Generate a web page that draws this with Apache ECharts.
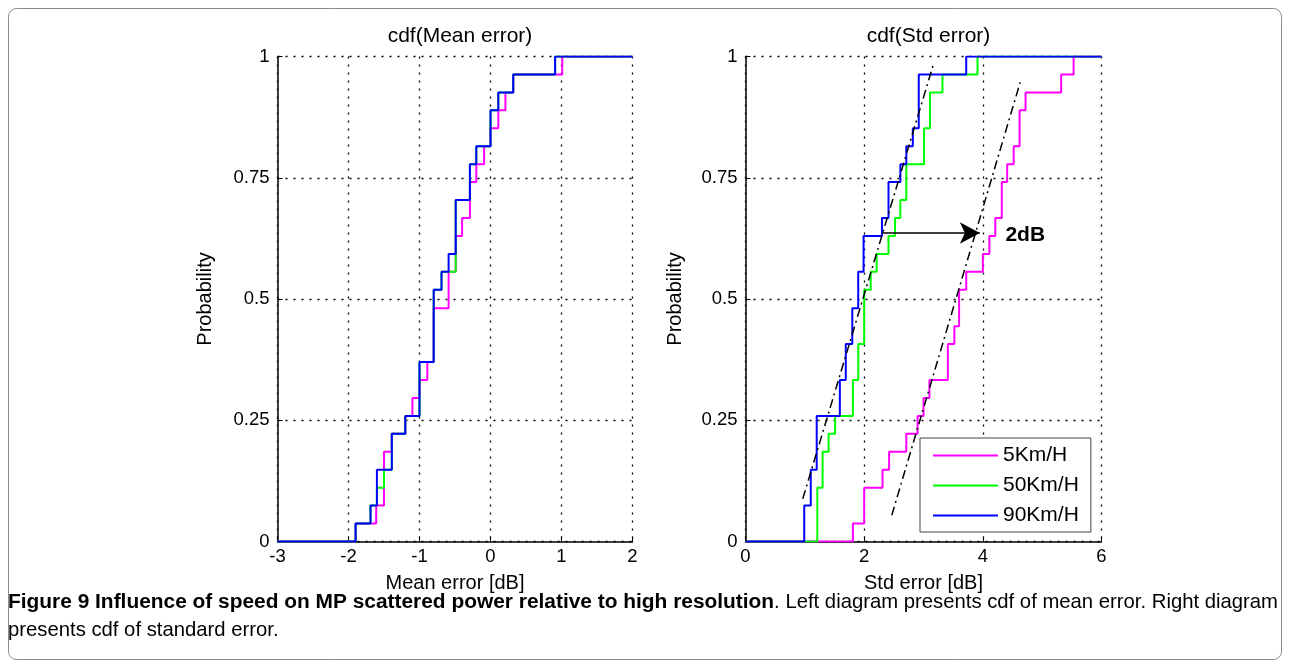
<!DOCTYPE html>
<html>
<head>
<meta charset="utf-8">
<script src="https://cdn.jsdelivr.net/npm/echarts@6/dist/echarts.min.js"></script>
<style>
html,body{margin:0;padding:0;background:#fff;}
#chart{width:1290px;height:668px;}
</style>
</head>
<body>
<div id="chart"></div>
<script>
// ---------- DATA ----------
// Left panel: cdf of mean error (x in dB, cumulative probability)
const meanX_5  = [-3, -1.90, -1.61, -1.50, -1.39, -1.20, -1.10, -1.00, -0.89, -0.80, -0.59, -0.49, -0.40, -0.29, -0.20, -0.09, 0.00, 0.11, 0.21, 0.32, 1.01, 2];
const meanP_5  = [0, 0.037, 0.074, 0.185, 0.222, 0.259, 0.296, 0.333, 0.370, 0.481, 0.556, 0.630, 0.667, 0.741, 0.778, 0.815, 0.852, 0.889, 0.926, 0.963, 1, 1];
const meanX_50 = [-3, -1.90, -1.69, -1.60, -1.50, -1.39, -1.20, -1.00, -0.80, -0.69, -0.49, -0.29, -0.20, 0.00, 0.11, 0.32, 0.91, 2];
const meanP_50 = [0, 0.037, 0.074, 0.111, 0.148, 0.222, 0.259, 0.370, 0.519, 0.556, 0.704, 0.778, 0.815, 0.889, 0.926, 0.963, 1, 1];
const meanX_90 = [-3, -1.90, -1.69, -1.60, -1.39, -1.20, -1.00, -0.80, -0.69, -0.59, -0.49, -0.29, -0.20, 0.00, 0.11, 0.32, 0.91, 2];
const meanP_90 = [0, 0.037, 0.074, 0.148, 0.222, 0.259, 0.370, 0.519, 0.556, 0.593, 0.704, 0.778, 0.815, 0.889, 0.926, 0.963, 1, 1];

// Right panel: cdf of std error
const stdX_5  = [0, 1.81, 2.00, 2.31, 2.42, 2.71, 2.90, 3.00, 3.10, 3.41, 3.52, 3.60, 3.72, 4.00, 4.11, 4.21, 4.32, 4.41, 4.52, 4.62, 4.72, 5.32, 5.53, 6];
const stdP_5  = [0, 0.037, 0.111, 0.148, 0.185, 0.222, 0.259, 0.296, 0.333, 0.407, 0.444, 0.519, 0.556, 0.593, 0.630, 0.667, 0.741, 0.778, 0.815, 0.889, 0.926, 0.963, 1, 1];
const stdX_50 = [0, 1.21, 1.30, 1.40, 1.51, 1.81, 1.90, 2.00, 2.11, 2.21, 2.41, 2.52, 2.61, 2.71, 3.01, 3.11, 3.32, 3.91, 6];
const stdP_50 = [0, 0.111, 0.185, 0.222, 0.259, 0.333, 0.407, 0.519, 0.556, 0.593, 0.630, 0.667, 0.704, 0.778, 0.852, 0.926, 0.963, 1, 1];
const stdX_90 = [0, 0.99, 1.10, 1.20, 1.59, 1.69, 1.80, 1.90, 1.99, 2.30, 2.41, 2.61, 2.71, 2.82, 2.92, 3.72, 6];
const stdP_90 = [0, 0.074, 0.148, 0.259, 0.333, 0.407, 0.481, 0.556, 0.630, 0.667, 0.741, 0.778, 0.815, 0.852, 0.963, 1, 1];

// Dash-dot fit lines and the 2dB arrow (right panel)
const fitA_X = [0.965, 3.16];
const fitA_P = [0.088, 0.981];
const fitB_X = [2.465, 4.63];
const fitB_P = [0.054, 0.947];
const arrowStart = [2.30, 0.636];
const arrowEnd   = [3.95, 0.636];
const arrowLabel = '2dB';
const arrowLabelPos = [4.38, 0.632];

// Labels
const seriesNames = ['5Km/H', '50Km/H', '90Km/H'];
const yTickLabels = {0: '0', 0.25: '0.25', 0.5: '0.5', 0.75: '0.75', 1: '1'};
const titles = ['cdf(Mean error)', 'cdf(Std error)'];
const xNames = ['Mean error [dB]', 'Std error [dB]'];
const yName = 'Probability';
const captionBold = 'Figure 9 Influence of speed on MP scattered power relative to high resolution';
const captionRest1 = '. Left diagram presents cdf of mean error. Right diagram';
const captionRest2 = 'presents cdf of standard error.';

// ---------- CHART ----------
const FONT = '"Liberation Sans", Arial, Helvetica, sans-serif';
const colors = ['#ff00ff', '#00ff00', '#0000ff'];
const pairs = (xs, ps) => xs.map((x, i) => [x, ps[i]]);

const chart = echarts.init(document.getElementById('chart'), null, {renderer: 'canvas'});

const gridDot = {color: '#000', width: 1.3, type: [2, 6]};

function yAxis(gridIndex, nameGap) {
  return {
    type: 'value', gridIndex, min: 0, max: 1, interval: 0.25,
    name: yName, nameLocation: 'middle', nameGap: nameGap, nameRotate: 90,
    nameTextStyle: {fontSize: 20, color: '#000', fontFamily: FONT},
    axisLine: {show: true, onZero: false, lineStyle: {color: '#000', width: 1.5}},
    axisTick: {show: true, inside: true, length: 5, lineStyle: {color: '#000'}},
    axisLabel: {fontSize: 18.5, color: '#000', fontFamily: FONT, margin: 8,
      formatter: v => (yTickLabels[v] !== undefined ? yTickLabels[v] : String(v))},
    splitLine: {show: true, lineStyle: gridDot}
  };
}
function xAxis(gridIndex, min, max, interval, name) {
  return {
    type: 'value', gridIndex, min, max, interval,
    name, nameLocation: 'middle', nameGap: 32,
    nameTextStyle: {fontSize: 20, color: '#000', fontFamily: FONT},
    axisLine: {show: true, onZero: false, lineStyle: {color: '#000', width: 1.5}},
    axisTick: {show: true, inside: true, length: 5, lineStyle: {color: '#000'}},
    axisLabel: {fontSize: 18.5, color: '#000', fontFamily: FONT, margin: 6},
    splitLine: {show: true, lineStyle: gridDot}
  };
}
function stepSeries(name, xi, color, xs, ps) {
  return {
    name, type: 'line', xAxisIndex: xi, yAxisIndex: xi, step: 'end',
    data: pairs(xs, ps), showSymbol: false, symbol: 'none',
    lineStyle: {color, width: 2}, itemStyle: {color},
    emphasis: {disabled: true}, animation: false, z: 3
  };
}
function fitSeries(xs, ps) {
  return {
    type: 'line', xAxisIndex: 1, yAxisIndex: 1, data: pairs(xs, ps),
    showSymbol: false, symbol: 'none',
    lineStyle: {color: '#000', width: 1.5, type: [9, 4, 2, 4]},
    emphasis: {disabled: true}, animation: false, silent: true, z: 4
  };
}

const option = {
  backgroundColor: '#fff',
  animation: false,
  textStyle: {fontFamily: FONT},
  title: [
    {text: titles[0], left: 455, top: 21, textAlign: 'center',
      textStyle: {fontSize: 21, fontWeight: 'normal', color: '#000', fontFamily: FONT}},
    {text: titles[1], left: 923.5, top: 21, textAlign: 'center',
      textStyle: {fontSize: 21, fontWeight: 'normal', color: '#000', fontFamily: FONT}}
  ],
  grid: [
    {left: 277.5, top: 56.5, width: 355, height: 485},
    {left: 745.5, top: 56.5, width: 356, height: 485}
  ],
  xAxis: [
    xAxis(0, -3, 2, 1, xNames[0]),
    xAxis(1, 0, 6, 2, xNames[1])
  ],
  yAxis: [yAxis(0, 62), yAxis(1, 60)],
  legend: {
    data: seriesNames, orient: 'vertical', left: 920, top: 438,
    padding: [7, 12, 6, 13], itemGap: 9, itemWidth: 65, itemHeight: 2,
    icon: 'rect', backgroundColor: '#fff', borderColor: '#444', borderWidth: 1,
    selectedMode: false,
    textStyle: {fontSize: 21, color: '#000', lineHeight: 20, fontFamily: FONT}
  },
  series: [
    stepSeries(seriesNames[0], 0, colors[0], meanX_5, meanP_5),
    stepSeries(seriesNames[1], 0, colors[1], meanX_50, meanP_50),
    stepSeries(seriesNames[2], 0, colors[2], meanX_90, meanP_90),
    stepSeries(seriesNames[0], 1, colors[0], stdX_5, stdP_5),
    stepSeries(seriesNames[1], 1, colors[1], stdX_50, stdP_50),
    stepSeries(seriesNames[2], 1, colors[2], stdX_90, stdP_90),
    fitSeries(fitA_X, fitA_P),
    fitSeries(fitB_X, fitB_P),
    {
      type: 'line', xAxisIndex: 1, yAxisIndex: 1, data: [], silent: true, animation: false, z: 5,
      markLine: {
        silent: true, animation: false,
        symbol: ['none', 'arrow'], symbolSize: [16, 20],
        lineStyle: {color: '#000', width: 1.5, type: 'solid'},
        label: {show: false},
        emphasis: {disabled: true},
        data: [[{coord: arrowStart}, {coord: arrowEnd}]]
      },
      markPoint: {
        silent: true, animation: false, symbol: 'circle', symbolSize: 0,
        itemStyle: {color: 'transparent'},
        label: {show: true, position: 'right', distance: 0, formatter: arrowLabel,
          fontSize: 21, fontWeight: 'bold', color: '#000', fontFamily: FONT},
        data: [{coord: arrowLabelPos}]
      }
    }
  ],
  graphic: [
    {type: 'rect', silent: true, z: -10,
      shape: {x: 8.5, y: 8.5, width: 1273, height: 651, r: 8},
      style: {fill: 'none', stroke: '#8a8a8a', lineWidth: 1}},
    {type: 'text', silent: true, left: 8, top: 592,
      style: {
        text: '{b|' + captionBold + '}{n|' + captionRest1 + '}\n{n|' + captionRest2 + '}',
        rich: {
          b: {fontWeight: 'bold', fontSize: 20.9, fontFamily: FONT, lineHeight: 28, fill: '#000'},
          n: {fontSize: 20.3, fontFamily: FONT, lineHeight: 28, fill: '#000'}
        }
      }}
  ]
};
chart.setOption(option);
</script>
</body>
</html>
